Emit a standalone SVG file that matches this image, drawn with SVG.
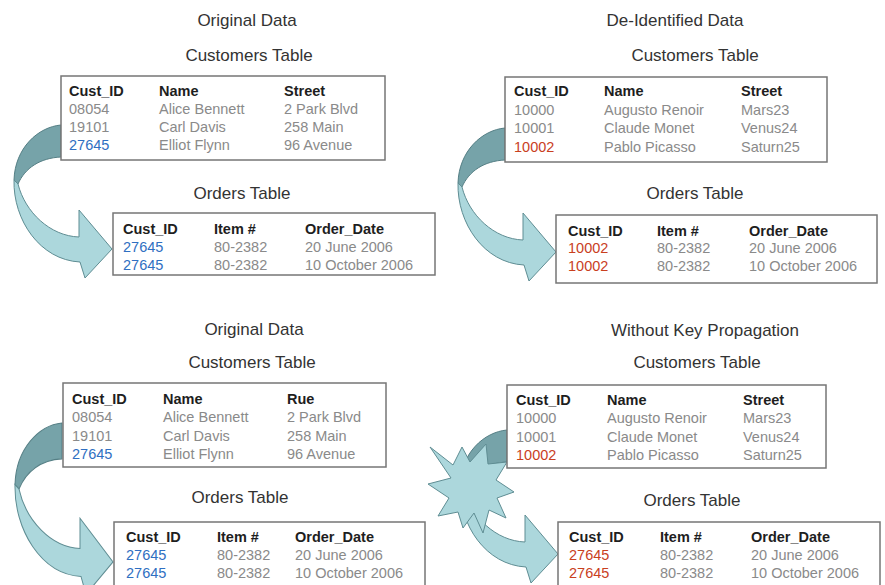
<svg xmlns="http://www.w3.org/2000/svg" width="885" height="585" viewBox="0 0 885 585">
<defs>
<style>
.bg{fill:#ffffff}
.title{font-family:"Liberation Sans",Arial,sans-serif;font-size:17px;fill:#333333;text-anchor:middle}
.box{fill:#ffffff;stroke:#767676;stroke-width:1.5}
.t{font-family:"Liberation Sans",Arial,sans-serif;font-size:14.5px}
.h{font-weight:bold;fill:#1e1e1e}
.g{fill:#8a8a8a}
.b{fill:#2f6fc2}
.r{fill:#c9401e}
.dark{fill:#76a3a9;stroke:#557f85;stroke-width:1}
.light{fill:#acd7dc;stroke:#5f8d93;stroke-width:1}
.burst{fill:#acd7dc;stroke:#5f8d93;stroke-width:1}
</style>
<g id="curvedArrow">
<path class="dark" d="M61,125 C38,127 15,148 14,180 L18,184 C25,168 40,158 61,157 Z"/>
<path class="light" d="M14,180 C13,220 40,260 80,262 L85,278 L112,249 L79,210 L79,237 C50,236 25,212 18,184 Z"/>
</g>
</defs>
<rect class="bg" x="0" y="0" width="885" height="585"/>

<g id="connectors">
<use href="#curvedArrow"/>
<use href="#curvedArrow" transform="translate(444,3)"/>
<use href="#curvedArrow" transform="translate(1,283) scale(1,1.12)"/>
<use href="#curvedArrow" transform="translate(446,305)"/>
<polygon class="burst" points="430,447 453,465 462,447 470,462 486,444 488,464 507,462 496,480 514,492 497,498 506,518 489,510 483,533 474,513 463,528 458,512 438,516 449,498 428,484 451,478"/>
</g>

<g id="q1">
<text class="title" x="247" y="26">Original Data</text>
<text class="title" x="249" y="61">Customers Table</text>
<text class="title" x="242" y="199">Orders Table</text>
</g>
<g id="q1-customers">
<rect class="box" x="61" y="76" width="324" height="84"/>
<g class="t">
<text class="h" x="69" y="96">Cust_ID</text><text class="h" x="159" y="96">Name</text><text class="h" x="284" y="96">Street</text>
<text class="g" x="69" y="114">08054</text><text class="g" x="159" y="114">Alice Bennett</text><text class="g" x="284" y="114">2 Park Blvd</text>
<text class="g" x="69" y="132">19101</text><text class="g" x="159" y="132">Carl Davis</text><text class="g" x="284" y="132">258 Main</text>
<text class="b" x="69" y="150">27645</text><text class="g" x="159" y="150">Elliot Flynn</text><text class="g" x="284" y="150">96 Avenue</text>
</g>
</g>
<g id="q1-orders">
<rect class="box" x="113" y="213" width="322" height="62"/>
<g class="t">
<text class="h" x="123" y="234">Cust_ID</text><text class="h" x="214" y="234">Item #</text><text class="h" x="305" y="234">Order_Date</text>
<text class="b" x="123" y="252">27645</text><text class="g" x="214" y="252">80-2382</text><text class="g" x="305" y="252">20 June 2006</text>
<text class="b" x="123" y="270">27645</text><text class="g" x="214" y="270">80-2382</text><text class="g" x="305" y="270">10 October 2006</text>
</g>
</g>

<g id="q2">
<text class="title" x="675" y="26">De-Identified Data</text>
<text class="title" x="695" y="61">Customers Table</text>
<text class="title" x="695" y="199">Orders Table</text>
</g>
<g id="q2-customers">
<rect class="box" x="505" y="77" width="322" height="85"/>
<g class="t">
<text class="h" x="514" y="96">Cust_ID</text><text class="h" x="604" y="96">Name</text><text class="h" x="741" y="96">Street</text>
<text class="g" x="514" y="115">10000</text><text class="g" x="604" y="115">Augusto Renoir</text><text class="g" x="741" y="115">Mars23</text>
<text class="g" x="514" y="133">10001</text><text class="g" x="604" y="133">Claude Monet</text><text class="g" x="741" y="133">Venus24</text>
<text class="r" x="514" y="152">10002</text><text class="g" x="604" y="152">Pablo Picasso</text><text class="g" x="741" y="152">Saturn25</text>
</g>
</g>
<g id="q2-orders">
<rect class="box" x="556" y="215" width="321" height="68"/>
<g class="t">
<text class="h" x="568" y="236">Cust_ID</text><text class="h" x="657" y="236">Item #</text><text class="h" x="749" y="236">Order_Date</text>
<text class="r" x="568" y="253">10002</text><text class="g" x="657" y="253">80-2382</text><text class="g" x="749" y="253">20 June 2006</text>
<text class="r" x="568" y="271">10002</text><text class="g" x="657" y="271">80-2382</text><text class="g" x="749" y="271">10 October 2006</text>
</g>
</g>

<g id="q3">
<text class="title" x="254" y="335">Original Data</text>
<text class="title" x="252" y="368">Customers Table</text>
<text class="title" x="240" y="503">Orders Table</text>
</g>
<g id="q3-customers">
<rect class="box" x="63" y="383" width="323" height="84"/>
<g class="t">
<text class="h" x="72" y="404">Cust_ID</text><text class="h" x="163" y="404">Name</text><text class="h" x="287" y="404">Rue</text>
<text class="g" x="72" y="422">08054</text><text class="g" x="163" y="422">Alice Bennett</text><text class="g" x="287" y="422">2 Park Blvd</text>
<text class="g" x="72" y="441">19101</text><text class="g" x="163" y="441">Carl Davis</text><text class="g" x="287" y="441">258 Main</text>
<text class="b" x="72" y="459">27645</text><text class="g" x="163" y="459">Elliot Flynn</text><text class="g" x="287" y="459">96 Avenue</text>
</g>
</g>
<g id="q3-orders">
<rect class="box" x="114" y="522" width="311" height="70"/>
<g class="t">
<text class="h" x="126" y="542">Cust_ID</text><text class="h" x="217" y="542">Item #</text><text class="h" x="295" y="542">Order_Date</text>
<text class="b" x="126" y="560">27645</text><text class="g" x="217" y="560">80-2382</text><text class="g" x="295" y="560">20 June 2006</text>
<text class="b" x="126" y="578">27645</text><text class="g" x="217" y="578">80-2382</text><text class="g" x="295" y="578">10 October 2006</text>
</g>
</g>

<g id="q4">
<text class="title" x="705" y="336">Without Key Propagation</text>
<text class="title" x="697" y="368">Customers Table</text>
<text class="title" x="692" y="506">Orders Table</text>
</g>
<g id="q4-customers">
<rect class="box" x="507" y="385" width="319" height="83"/>
<g class="t">
<text class="h" x="516" y="405">Cust_ID</text><text class="h" x="607" y="405">Name</text><text class="h" x="743" y="405">Street</text>
<text class="g" x="516" y="423">10000</text><text class="g" x="607" y="423">Augusto Renoir</text><text class="g" x="743" y="423">Mars23</text>
<text class="g" x="516" y="442">10001</text><text class="g" x="607" y="442">Claude Monet</text><text class="g" x="743" y="442">Venus24</text>
<text class="r" x="516" y="460">10002</text><text class="g" x="607" y="460">Pablo Picasso</text><text class="g" x="743" y="460">Saturn25</text>
</g>
</g>
<g id="q4-orders">
<rect class="box" x="558" y="522" width="322" height="70"/>
<g class="t">
<text class="h" x="569" y="542">Cust_ID</text><text class="h" x="660" y="542">Item #</text><text class="h" x="751" y="542">Order_Date</text>
<text class="r" x="569" y="560">27645</text><text class="g" x="660" y="560">80-2382</text><text class="g" x="751" y="560">20 June 2006</text>
<text class="r" x="569" y="578">27645</text><text class="g" x="660" y="578">80-2382</text><text class="g" x="751" y="578">10 October 2006</text>
</g>
</g>
</svg>
